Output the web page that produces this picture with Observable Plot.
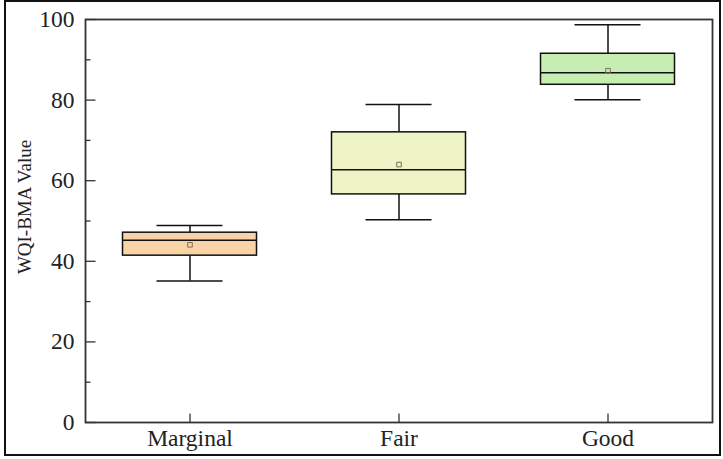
<!DOCTYPE html>
<html>
<head>
<meta charset="utf-8">
<script src="https://cdn.jsdelivr.net/npm/d3@7"></script>
<script src="https://cdn.jsdelivr.net/npm/@observablehq/plot@0.6"></script>
<style>
  body { margin: 0; background: #fff; }
  #chart { position: relative; width: 723px; height: 459px; }
  #border { position: absolute; left: 4px; top: 0px; width: 717px; height: 456px; box-sizing: border-box; border: 2px solid #111; pointer-events: none; z-index: 2; }
</style>
</head>
<body>
<div id="chart"><div id="border"></div></div>
<script>
const categories = ["Marginal", "Fair", "Good"];
const whiskerLow = [35.1, 50.3, 80.1];
const q1 = [41.4, 56.6, 83.8];
const median = [45.2, 62.7, 86.8];
const q3 = [47.1, 72.0, 91.5];
const whiskerHigh = [48.9, 78.9, 98.7];
const mean = [44.1, 64.0, 87.3];
const boxColors = ["#F8D3A6", "#EEF4C6", "#C6EEB3"];
const yTicks = [0, 20, 40, 60, 80, 100];
const yMinorTicks = [10, 30, 50, 70, 90];
const yLabel = "WQI-BMA Value";

const rows = categories.map((c, i) => ({
  cat: c, lo: whiskerLow[i], q1: q1[i], med: median[i], q3: q3[i], hi: whiskerHigh[i], mean: mean[i]
}));

const hTick = len => ({draw(ctx) { ctx.moveTo(0, 0); ctx.lineTo(len, 0); }});
const vTick = len => ({draw(ctx) { ctx.moveTo(0, 0); ctx.lineTo(0, -len); }});

const boxInset = 37.5;
const capInset = 71.5;

const chart = Plot.plot({
  width: 723,
  height: 459,
  marginLeft: 85,
  marginRight: 11,
  marginTop: 19,
  marginBottom: 37,
  style: {fontFamily: "'Liberation Serif', 'Times New Roman', serif", color: "#222", background: "transparent"},
  x: {type: "band", domain: categories, padding: 0, label: null},
  y: {domain: [0, 100], label: null},
  color: {domain: categories, range: boxColors},
  marks: [
    Plot.ruleX(rows, {x: "cat", y1: "lo", y2: "q1", stroke: "#111", strokeWidth: 1.5}),
    Plot.ruleX(rows, {x: "cat", y1: "q3", y2: "hi", stroke: "#111", strokeWidth: 1.5}),
    Plot.tickY(rows, {x: "cat", y: "lo", insetLeft: capInset, insetRight: capInset, stroke: "#111", strokeWidth: 1.5}),
    Plot.tickY(rows, {x: "cat", y: "hi", insetLeft: capInset, insetRight: capInset, stroke: "#111", strokeWidth: 1.5}),
    Plot.barY(rows, {x: "cat", y1: "q1", y2: "q3", fill: "cat", stroke: "#111", strokeWidth: 1.5, insetLeft: boxInset, insetRight: boxInset}),
    Plot.tickY(rows, {x: "cat", y: "med", insetLeft: boxInset, insetRight: boxInset, stroke: "#111", strokeWidth: 1.5}),
    Plot.dot(rows, {x: "cat", y: "mean", symbol: "square", r: 2.6, stroke: "#7d6a58", strokeWidth: 1, fill: "none"}),
    Plot.dot(yTicks, {y: d => d, frameAnchor: "left", symbol: hTick(10), stroke: "#333", strokeWidth: 1.3}),
    Plot.dot(yMinorTicks, {y: d => d, frameAnchor: "left", symbol: hTick(5), stroke: "#333", strokeWidth: 1.3}),
    Plot.dot(categories, {x: d => d, frameAnchor: "bottom", symbol: vTick(9), stroke: "#333", strokeWidth: 1.3}),
    Plot.frame({stroke: "#333", strokeWidth: 1.8}),
    Plot.axisY({ticks: yTicks, tickSize: 0, tickPadding: 11, fontSize: 23.5, label: null}),
    Plot.axisX({tickSize: 0, tickPadding: 7, fontSize: 23.5, label: null}),
    Plot.text([yLabel], {text: d => d, frameAnchor: "left", textAnchor: "middle", rotate: -90, dx: -61, dy: -14, fontSize: 19, fill: "#222"})
  ]
});
document.getElementById("chart").appendChild(chart);
</script>
</body>
</html>
